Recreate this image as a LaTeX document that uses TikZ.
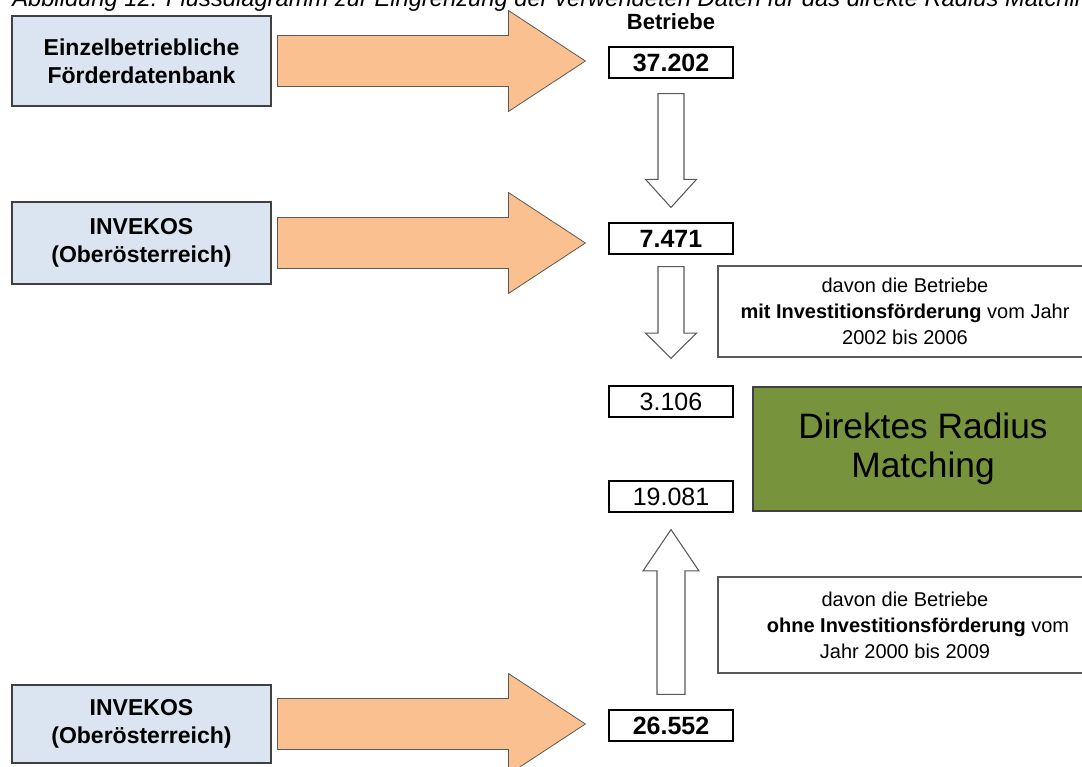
\documentclass[tikz,border=0pt]{standalone}
\usepackage{fontspec}
\setmainfont{Liberation Sans}
\usetikzlibrary{calc}
\definecolor{boxblue}{HTML}{DBE5F1}
\definecolor{arrorange}{HTML}{FAC090}
\definecolor{matchgreen}{HTML}{77933C}
\definecolor{edgegray}{HTML}{595959}
\definecolor{boxedge}{HTML}{404040}
% horizontal fat arrow: start, end, shaft half, head half, head length
\newcommand\hfat[5]{%
  \path[fatarrow] let \p1=(#1), \p2=(#2) in
    (\x1,{\y1+#3}) -- ({\x2-#5},{\y1+#3}) -- ({\x2-#5},{\y1+#4}) -- (\x2,\y1)
    -- ({\x2-#5},{\y1-#4}) -- ({\x2-#5},{\y1-#3}) -- (\x1,{\y1-#3}) -- cycle;}
% vertical hollow arrow: start, tip, shaft half, head half, signed head length
\newcommand\vfat[5]{%
  \path[hollowarrow] let \p1=(#1), \p2=(#2) in
    ({\x1-#3},\y1) -- ({\x1-#3},{\y2+(#5)}) -- ({\x1-#4},{\y2+(#5)}) -- (\x1,\y2)
    -- ({\x1+#4},{\y2+(#5)}) -- ({\x1+#3},{\y2+(#5)}) -- ({\x1+#3},\y1) -- cycle;}
\begin{document}
\begin{tikzpicture}[x=0.75pt,y=-0.75pt,
  srcbox/.style={draw=boxedge,line width=0.8pt,fill=boxblue,align=center,
    minimum width=194.25pt,inner sep=0pt,
    font=\fontsize{17.25}{21}\selectfont\bfseries},
  numbox/.style={draw=black,line width=0.9pt,fill=white,minimum width=93pt,
    minimum height=23.25pt,inner sep=0pt,font=\fontsize{18.75}{20}\selectfont},
  notebox/.style={draw=edgegray,line width=0.8pt,fill=white,align=center,
    minimum width=280.5pt,inner sep=0pt,font=\fontsize{15}{19.5}\selectfont},
  fatarrow/.style={draw=edgegray,line width=0.6pt,fill=arrorange,line join=miter},
  hollowarrow/.style={draw=edgegray,line width=0.8pt,fill=white,line join=miter},
  matchbox/.style={draw=boxedge,line width=0.8pt,fill=matchgreen,align=center,
    minimum width=255pt,minimum height=93pt,inner sep=0pt,
    font=\fontsize{26.5}{29}\selectfont}]
\useasboundingbox (0,0) rectangle (1082,767);
\clip (0,0) rectangle (1082,767);

% caption (cut off at the top edge, as in the reference)
\node[anchor=base west,inner sep=0pt,font=\fontsize{17.8}{19}\selectfont\itshape]
  (cap) at (12,7) {Abbildung 12: Flussdiagramm zur Eingrenzung der verwendeten Daten für das direkte Radius Matching};

% source boxes
\node[srcbox,minimum height=67.5pt] (q1) at (141.5,61) {Einzelbetriebliche\\Förderdatenbank};
\node[srcbox,minimum height=61.5pt] (q2) at (141.5,243) {INVEKOS\\(Oberösterreich)};
\node[srcbox,minimum height=58.5pt] (q3) at (141.5,724) {INVEKOS\\(Oberösterreich)};

% header
\node[font=\fontsize{16.5}{18}\selectfont\bfseries,inner sep=0pt] (hdr) at (671,22) {Betriebe};

% number boxes
\node[numbox,font=\fontsize{18.75}{20}\selectfont\bfseries] (n1) at (671,62.5) {37.202};
\node[numbox,font=\fontsize{18.75}{20}\selectfont\bfseries] (n2) at (671,238.5) {7.471};
\node[numbox] (n3) at (671,401.5) {3.106};
\node[numbox] (n4) at (671,496.5) {19.081};
\node[numbox,font=\fontsize{18.75}{20}\selectfont\bfseries] (n5) at (671,725.5) {26.552};

% note boxes
\node[notebox,minimum height=68.25pt] (t1) at (905,311.5)
  {davon die Betriebe\\\textbf{mit Investitionsförderung} vom Jahr\\2002 bis 2006};
\node[notebox,minimum height=72pt] (t2) at (905,625)
  {davon die Betriebe\\\hspace*{19.5pt}\textbf{ohne Investitionsförderung} vom\\Jahr 2000 bis 2009};

% matching box
\node[matchbox] (m) at (923,449) {Direktes Radius\\Matching};

% orange arrows from sources to counts
\hfat{$(q1.east)+(6,0)$}{$(n1.west)+(-23,0)$}{19.125pt}{37.875pt}{57.75pt}
\hfat{$(q2.east)+(6,0)$}{$(n2.west)+(-23,0)$}{19.125pt}{37.875pt}{57.75pt}
\hfat{$(q3.east)+(6,0)$}{$(n5.west)+(-23,0)$}{19.125pt}{37.875pt}{57.75pt}

% hollow arrows between counts
\vfat{$(n1.south)+(0,15)$}{$(n2.north)+(0,-15)$}{9.75pt}{19.1pt}{21pt}
\vfat{$(n2.south)+(0,12)$}{$(n3.north)+(0,-27)$}{9.75pt}{19.1pt}{19pt}
\vfat{$(n5.north)+(0,-15)$}{$(n4.south)+(0,17)$}{10.5pt}{21pt}{-31pt}
\end{tikzpicture}
\end{document}
